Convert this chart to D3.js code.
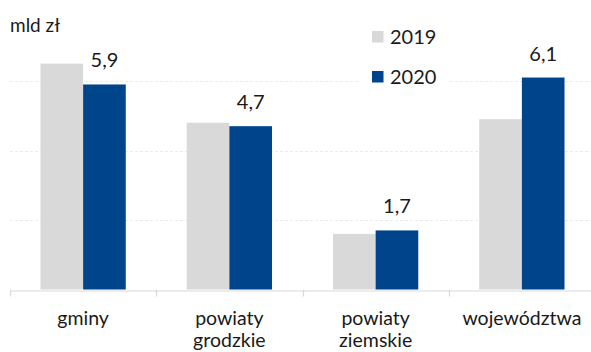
<!DOCTYPE html>
<html>
<head>
<meta charset="utf-8">
<script src="https://cdn.jsdelivr.net/npm/d3@7"></script>
<style>
  html, body { margin: 0; padding: 0; background: #fff; }
  svg { display: block; font-family: Lato, "Open Sans", sans-serif; }
</style>
</head>
<body>
<svg id="chart" width="591" height="352"></svg>
<script>
// Local government budget balances, billions of zloty
const categories = ["gminy", "powiaty grodzkie", "powiaty ziemskie", "województwa"];
const categoryLines = [["gminy"], ["powiaty", "grodzkie"], ["powiaty", "ziemskie"], ["województwa"]];
const values2019 = [6.5, 4.8, 1.6, 4.9];
const values2020 = [5.9, 4.7, 1.7, 6.1];
const seriesNames = ["2019", "2020"];
const gridTicks = [2, 4, 6];
const unitLabel = "mld zł";

const colors = { "2019": "#d9d9d9", "2020": "#00458b" };
const svg = d3.select("#chart");
const W = 591, H = 352;
const margin = { left: 10, right: -4, top: 11.5, bottom: 62.5 };

const x = d3.scaleBand()
  .domain(categories)
  .range([margin.left, W - margin.right])
  .paddingInner(0)
  .paddingOuter(0);

const xInner = d3.scaleBand()
  .domain(seriesNames)
  .range([0, x.bandwidth()])
  .paddingInner(0)
  .paddingOuter(0.715);

const y = d3.scaleLinear()
  .domain([0, 8])
  .range([H - margin.bottom, margin.top]);

// gridlines
svg.append("g")
  .selectAll("line")
  .data(gridTicks)
  .join("line")
  .attr("x1", margin.left)
  .attr("x2", W)
  .attr("y1", d => Math.round(y(d)) + 0.5)
  .attr("y2", d => Math.round(y(d)) + 0.5)
  .attr("stroke", "#ebebeb")
  .attr("stroke-dasharray", "3,2");

// bars
const rows = categories.map((c, i) => ({ c, vals: [
  { s: "2019", v: values2019[i] },
  { s: "2020", v: values2020[i] }
]}));

const groups = svg.append("g")
  .selectAll("g")
  .data(rows)
  .join("g")
  .attr("transform", d => `translate(${x(d.c)},0)`);

groups.selectAll("rect")
  .data(d => d.vals)
  .join("rect")
  .attr("x", d => xInner(d.s))
  .attr("width", xInner.bandwidth())
  .attr("y", d => y(d.v))
  .attr("height", d => y(0) - y(d.v))
  .attr("fill", d => colors[d.s]);

// value labels above the 2020 bars
groups.append("text")
  .attr("x", d => xInner("2020") + xInner.bandwidth() / 2)
  .attr("y", d => y(d.vals[1].v) - 17)
  .attr("text-anchor", "middle")
  .attr("font-size", 20)
  .attr("fill", "#1a1a1a")
  .text(d => d3.format(".1f")(d.vals[1].v).replace(".", ","));

// x axis
const axis = svg.append("g")
  .attr("transform", `translate(0,${Math.round(y(0)) + 0.5})`)
  .call(d3.axisBottom(x).tickSize(0).tickFormat(""));
axis.select(".domain").attr("stroke", "#d9d9d9").attr("stroke-width", 1.2);
axis.selectAll(".tick").remove();

// band boundary ticks
svg.append("g")
  .selectAll("line")
  .data(categories)
  .join("line")
  .attr("x1", d => Math.round(x(d)) + 0.5)
  .attr("x2", d => Math.round(x(d)) + 0.5)
  .attr("y1", y(0))
  .attr("y2", y(0) + 7)
  .attr("stroke", "#d9d9d9")
  .attr("stroke-width", 1.2);

// category labels (one text element per line)
const labelGroups = svg.append("g")
  .selectAll("g")
  .data(categories)
  .join("g");
labelGroups.selectAll("text")
  .data((d, i) => categoryLines[i].map((line, j) => ({ cat: d, line, j })))
  .join("text")
  .attr("x", d => x(d.cat) + x.bandwidth() / 2)
  .attr("y", d => 325 + d.j * 22)
  .attr("text-anchor", "middle")
  .attr("font-size", 19.5)
  .attr("fill", "#1a1a1a")
  .text(d => d.line);

// unit label
svg.append("text")
  .attr("x", 10)
  .attr("y", 32)
  .attr("font-size", 19)
  .attr("fill", "#1a1a1a")
  .text(unitLabel);

// legend
const legend = svg.append("g");
legend.append("rect")
  .attr("x", 360).attr("y", 20).attr("width", 88).attr("height", 72)
  .attr("fill", "#fff");
const items = legend.selectAll("g.item")
  .data(seriesNames)
  .join("g")
  .attr("class", "item")
  .attr("transform", (d, i) => `translate(372,${31 + i * 40})`);
items.append("rect")
  .attr("width", 11.5).attr("height", 11.5)
  .attr("fill", d => colors[d]);
items.append("text")
  .attr("x", 18)
  .attr("y", 12.5)
  .attr("font-size", 20)
  .attr("fill", "#1a1a1a")
  .text(d => d);
</script>
</body>
</html>
